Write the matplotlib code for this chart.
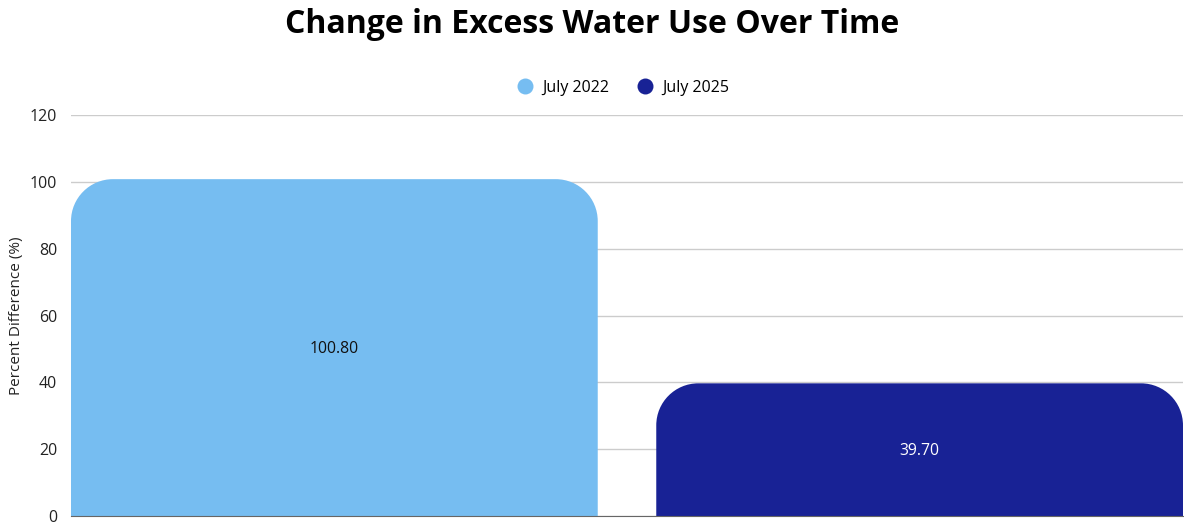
import matplotlib.pyplot as plt
from matplotlib.path import Path
from matplotlib.patches import PathPatch
from matplotlib.lines import Line2D

plt.rcParams['font.family'] = ['Open Sans', 'DejaVu Sans']

# data
periods = ['July 2022', 'July 2025']
pct_diff = [100.80, 39.70]
colors = ['#76BDF1', '#182295']
label_colors = ['#111111', '#FFFFFF']
y_ticks = [0, 20, 40, 60, 80, 100, 120]

fig = plt.figure(figsize=(11.84, 5.24), dpi=100)
ax = fig.add_axes([71 / 1184, 8 / 524, 1112 / 1184, 401 / 524])

x_pos = list(range(len(periods)))
width = 0.9
ax.set_xlim(-0.45, len(periods) - 1 + 0.45)
ax.set_ylim(0, 120)

# pixel -> data scale, for corners that stay round on screen
ax_w_px = 1112
ax_h_px = 401
sx = (ax.get_xlim()[1] - ax.get_xlim()[0]) / ax_w_px
sy = (ax.get_ylim()[1] - ax.get_ylim()[0]) / ax_h_px
r_px = 42


def rounded_top_bar(x0, x1, h):
    rx = r_px * sx
    ry = min(r_px * sy, h)
    k = 0.5523
    verts = [
        (x0, 0), (x0, h - ry),
        (x0, h - ry + k * ry), (x0 + rx - k * rx, h), (x0 + rx, h),
        (x1 - rx, h),
        (x1 - rx + k * rx, h), (x1, h - ry + k * ry), (x1, h - ry),
        (x1, 0), (x0, 0),
    ]
    codes = [Path.MOVETO, Path.LINETO,
             Path.CURVE4, Path.CURVE4, Path.CURVE4,
             Path.LINETO,
             Path.CURVE4, Path.CURVE4, Path.CURVE4,
             Path.LINETO, Path.CLOSEPOLY]
    return Path(verts, codes)


for xp, val, c, lc in zip(x_pos, pct_diff, colors, label_colors):
    patch = PathPatch(rounded_top_bar(xp - width / 2, xp + width / 2, val),
                      facecolor=c, edgecolor='none', zorder=2)
    ax.add_patch(patch)
    ax.text(xp, val / 2 - 0.5, f'{val:.2f}', ha='center', va='center',
            fontsize=11.3, color=lc, zorder=3)

ax.set_yticks(y_ticks)
ax.set_xticks([])
ax.grid(axis='y', color='#CCCCCC', linewidth=1, zorder=0)
ax.tick_params(axis='y', length=0, pad=10, labelsize=11.5, labelcolor='#222222')
for s in ['left', 'right', 'top']:
    ax.spines[s].set_visible(False)
ax.spines['bottom'].set_color('#666666')
ax.spines['bottom'].set_zorder(3)
ax.set_ylabel('Percent Difference (%)', fontsize=11, color='#222222')
ax.yaxis.set_label_coords(-0.042, 0.5)

handles = [Line2D([], [], marker='o', linestyle='none', markersize=11.5,
                  markerfacecolor=c, markeredgecolor='none') for c in colors]
ax.legend(handles, periods, loc='lower center', bbox_to_anchor=(0.493, 1.0),
          ncol=2, frameon=False, fontsize=11.5, handletextpad=0.1,
          columnspacing=1.2, borderaxespad=0.8)

fig.suptitle('Change in Excess Water Use Over Time', fontsize=23,
             fontweight='bold', y=0.985)

fig.savefig('out.png', dpi=100)
